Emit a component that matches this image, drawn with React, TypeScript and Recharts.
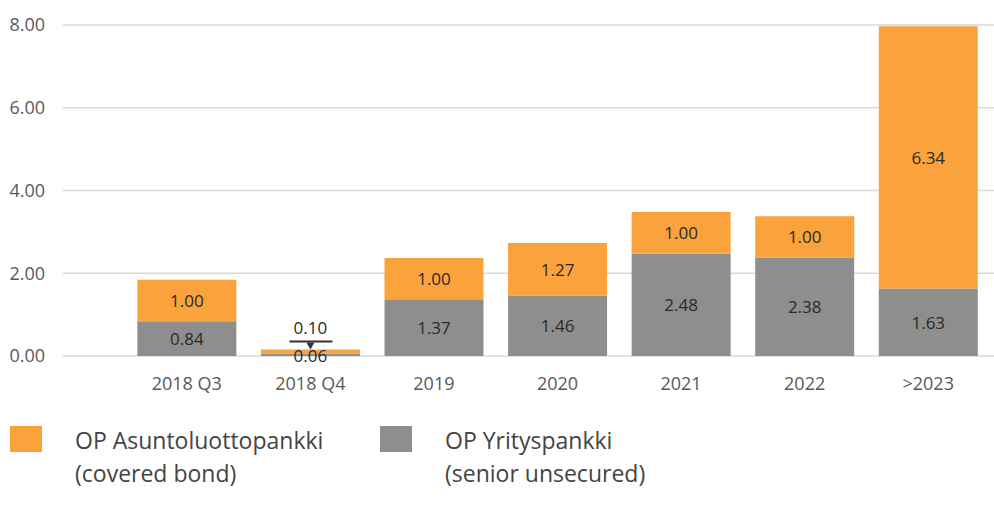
import React from 'react';
import { BarChart, Bar, XAxis, YAxis, CartesianGrid, LabelList } from 'recharts';

const categories = ['2018 Q3', '2018 Q4', '2019', '2020', '2021', '2022', '>2023'];
const seniorUnsecured = [0.84, 0.06, 1.37, 1.46, 2.48, 2.38, 1.63];
const coveredBond = [1.0, 0.1, 1.0, 1.27, 1.0, 1.0, 6.34];
const yTicks = [0, 2, 4, 6, 8];

const ORANGE = '#FAA23C';
const GREY = '#8E8E8E';
const FONT = '"Open Sans", "Noto Sans", sans-serif';

const data = categories.map((name, i) => ({
  name,
  senior: seniorUnsecured[i],
  covered: coveredBond[i],
}));

// the tiny 2018 Q4 stack gets its labels drawn outside the bar
const SMALL_INDEX = 1;

const SeniorLabel = (props: any) => {
  const { x, y, width, height, value, index } = props;
  const cx = x + width / 2;
  const cy = index === SMALL_INDEX ? y + height / 2 + 1 : y + height / 2;
  return (
    <text x={cx} y={cy} textAnchor="middle" dominantBaseline="central"
      fontSize={17} fill="#2a2a2a" fontFamily={FONT}>
      {value.toFixed(2)}
    </text>
  );
};

const CoveredLabel = (props: any) => {
  const { x, y, width, height, value, index } = props;
  const cx = x + width / 2;
  if (index === SMALL_INDEX) {
    return (
      <g>
        <text x={cx} y={y - 22} textAnchor="middle" dominantBaseline="central"
          fontSize={17} fill="#2a2a2a" fontFamily={FONT}>
          {value.toFixed(2)}
        </text>
        <line x1={cx - 21} x2={cx + 22} y1={y - 8} y2={y - 8} stroke="#333" strokeWidth={2} />
        <path d={`M${cx - 4},${y - 7} L${cx + 4},${y - 7} L${cx},${y} Z`} fill="#333" />
      </g>
    );
  }
  return (
    <text x={cx} y={y + height / 2} textAnchor="middle" dominantBaseline="central"
      fontSize={17} fill="#2a2a2a" fontFamily={FONT}>
      {value.toFixed(2)}
    </text>
  );
};

const LegendItem = ({ color, line1, line2, left }: any) => (
  <div style={{ position: 'absolute', left, top: 0, display: 'flex' }}>
    <div style={{ width: 32, height: 26, background: color, marginTop: 2 }} />
    <div style={{ marginLeft: 33, fontSize: 23, lineHeight: '33px', color: '#444', fontFamily: FONT }}>
      <div>{line1}</div>
      <div>{line2}</div>
    </div>
  </div>
);

export default function App() {
  return (
    <div style={{ position: 'absolute', left: 0, top: 0, width: 994, height: 513, background: '#fff' }}>
      <BarChart
        width={994}
        height={400}
        data={data}
        margin={{ top: 25, right: 0, left: 0, bottom: 0 }}
        barCategoryGap="10%"
      >
        <CartesianGrid vertical={false} stroke="#D9D9D9" strokeWidth={1.5} />
        <XAxis
          dataKey="name"
          axisLine={false}
          tickLine={false}
          height={44}
          padding={{ left: 62, right: 4 }}
          tick={{ fill: '#595959', fontSize: 18, fontFamily: FONT }}
          tickMargin={15}
          interval={0}
        />
        <YAxis
          domain={[0, 8]}
          ticks={yTicks}
          width={63}
          axisLine={false}
          tickLine={false}
          tickMargin={12}
          tickFormatter={(v: number) => v.toFixed(2)}
          tick={{ fill: '#595959', fontSize: 18, fontFamily: FONT }}
        />
        <Bar dataKey="senior" stackId="a" fill={GREY} isAnimationActive={false}>
          <LabelList dataKey="senior" content={<SeniorLabel />} />
        </Bar>
        <Bar dataKey="covered" stackId="a" fill={ORANGE} isAnimationActive={false}>
          <LabelList dataKey="covered" content={<CoveredLabel />} />
        </Bar>
      </BarChart>
      <div style={{ position: 'absolute', left: 10, top: 424, width: 984, height: 80 }}>
        <LegendItem color={ORANGE} line1="OP Asuntoluottopankki" line2="(covered bond)" left={0} />
        <LegendItem color={GREY} line1="OP Yrityspankki" line2="(senior unsecured)" left={370} />
      </div>
    </div>
  );
}
